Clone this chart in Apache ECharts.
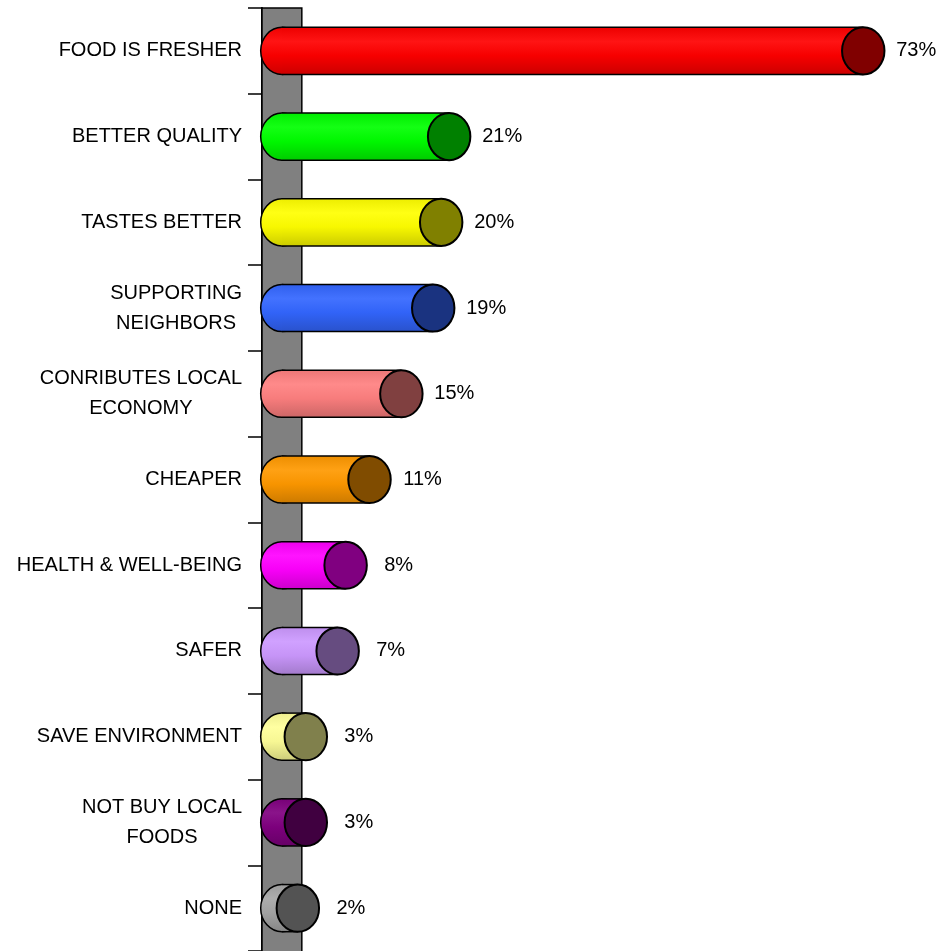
<!DOCTYPE html>
<html>
<head>
<meta charset="utf-8">
<script src="https://cdn.jsdelivr.net/npm/echarts@6/dist/echarts.min.js"></script>
<style>
  html, body { margin: 0; padding: 0; background: #ffffff; }
  #chart { width: 941px; height: 951px; }
</style>
</head>
<body>
<div id="chart"></div>
<script>
// Reasons for buying local food (share of respondents, %)
const categories = [
  'FOOD IS FRESHER',
  'BETTER QUALITY',
  'TASTES BETTER',
  'SUPPORTING\nNEIGHBORS',
  'CONRIBUTES LOCAL\nECONOMY',
  'CHEAPER',
  'HEALTH & WELL-BEING',
  'SAFER',
  'SAVE ENVIRONMENT',
  'NOT BUY LOCAL\nFOODS',
  'NONE'
];
const shares = [73, 21, 20, 19, 15, 11, 8, 7, 3, 3, 2];

// Cylinder body colours and the darker end-cap colours
const bodyColors = ['#ff0000', '#00ff00', '#ffff00', '#3366ff', '#ff8080', '#ff9900',
                    '#ff00ff', '#cc99ff', '#ffff99', '#800080', '#a6a6a6'];
const capColors  = ['#800000', '#008000', '#808000', '#1a3380', '#804040', '#804c00',
                    '#800080', '#664c80', '#80804c', '#400040', '#535353'];

const FONT = '"Liberation Sans", Arial, sans-serif';

function shade(hex, f) {
  const n = parseInt(hex.slice(1), 16);
  let r = (n >> 16) & 255, g = (n >> 8) & 255, b = n & 255;
  const adj = c => f >= 1 ? Math.round(c + (255 - c) * (f - 1)) : Math.round(c * f);
  r = adj(r); g = adj(g); b = adj(b);
  return 'rgb(' + r + ',' + g + ',' + b + ')';
}

// Grey back wall behind the cylinders, spanning the whole plot height
function renderWall(params, api) {
  const cs = params.coordSys;
  const left = api.coord([-2.5, 0])[0];
  const right = api.coord([2.5, 0])[0];
  return {
    type: 'rect',
    shape: { x: left, y: cs.y, width: right - left, height: cs.height + 20 },
    style: { fill: '#808080', stroke: '#000000', lineWidth: 1.5 }
  };
}

// One horizontal cylinder per category, with a darker end cap and the value label
function renderCylinder(params, api) {
  const i = params.dataIndex;
  const v = api.value(0);
  const idx = api.value(1);
  const start = api.coord([0, idx]);
  const end = api.coord([v, idx]);
  const band = api.size([0, 1])[1];
  const h = band * 0.55;
  const ry = h / 2;
  const rx = ry * 0.9;
  const cy = start[1];
  const top = cy - ry;
  const base = bodyColors[i];
  const fill = new echarts.graphic.LinearGradient(0, 0, 0, 1, [
    { offset: 0, color: shade(base, 0.93) },
    { offset: 0.3, color: shade(base, 1.08) },
    { offset: 0.6, color: shade(base, 0.97) },
    { offset: 1, color: shade(base, 0.8) }
  ]);
  return {
    type: 'group',
    children: [
      { type: 'ellipse', shape: { cx: start[0], cy: cy, rx: rx, ry: ry },
        style: { fill: fill, stroke: '#000000', lineWidth: 1.5 } },
      { type: 'rect', shape: { x: start[0], y: top, width: end[0] - start[0], height: h },
        style: { fill: fill } },
      { type: 'line', shape: { x1: start[0], y1: top, x2: end[0], y2: top },
        style: { stroke: '#000000', lineWidth: 1.5 } },
      { type: 'line', shape: { x1: start[0], y1: top + h, x2: end[0], y2: top + h },
        style: { stroke: '#000000', lineWidth: 1.5 } },
      { type: 'ellipse', shape: { cx: end[0], cy: cy, rx: rx, ry: ry },
        style: { fill: capColors[i], stroke: '#000000', lineWidth: 2 } },
      { type: 'text', x: end[0] + 53, y: cy,
        style: { text: v + '%', fill: '#000000', font: '20px ' + FONT,
                 align: 'center', verticalAlign: 'middle' } }
    ]
  };
}

const chart = echarts.init(document.getElementById('chart'), null, { renderer: 'canvas' });
chart.setOption({
  backgroundColor: '#ffffff',
  animation: false,
  grid: { left: 262, right: 22, top: 8, bottom: 0, containLabel: false },
  xAxis: { type: 'value', min: -2.5, max: 80, show: false },
  yAxis: {
    type: 'category',
    data: categories,
    inverse: true,
    axisLine: { show: true, onZero: false, lineStyle: { color: '#000000', width: 2 } },
    axisTick: { show: true, length: 14, lineStyle: { color: '#000000', width: 1.5 } },
    splitLine: { show: false },
    axisLabel: {
      margin: 20,
      align: 'right',
      formatter: v => v.split('\n').map(s => '{c|' + s + '}').join('\n'),
      rich: {
        c: { align: 'center', fontSize: 20, lineHeight: 30, fontFamily: FONT, color: '#000000' }
      }
    }
  },
  series: [
    {
      type: 'custom',
      z: 1,
      renderItem: renderWall,
      data: [[0, 0]],
      encode: { x: 0, y: 1 },
      silent: true
    },
    {
      type: 'custom',
      z: 2,
      renderItem: renderCylinder,
      data: shares.map((v, i) => [v, i]),
      encode: { x: 0, y: 1 }
    }
  ]
});
</script>
</body>
</html>
